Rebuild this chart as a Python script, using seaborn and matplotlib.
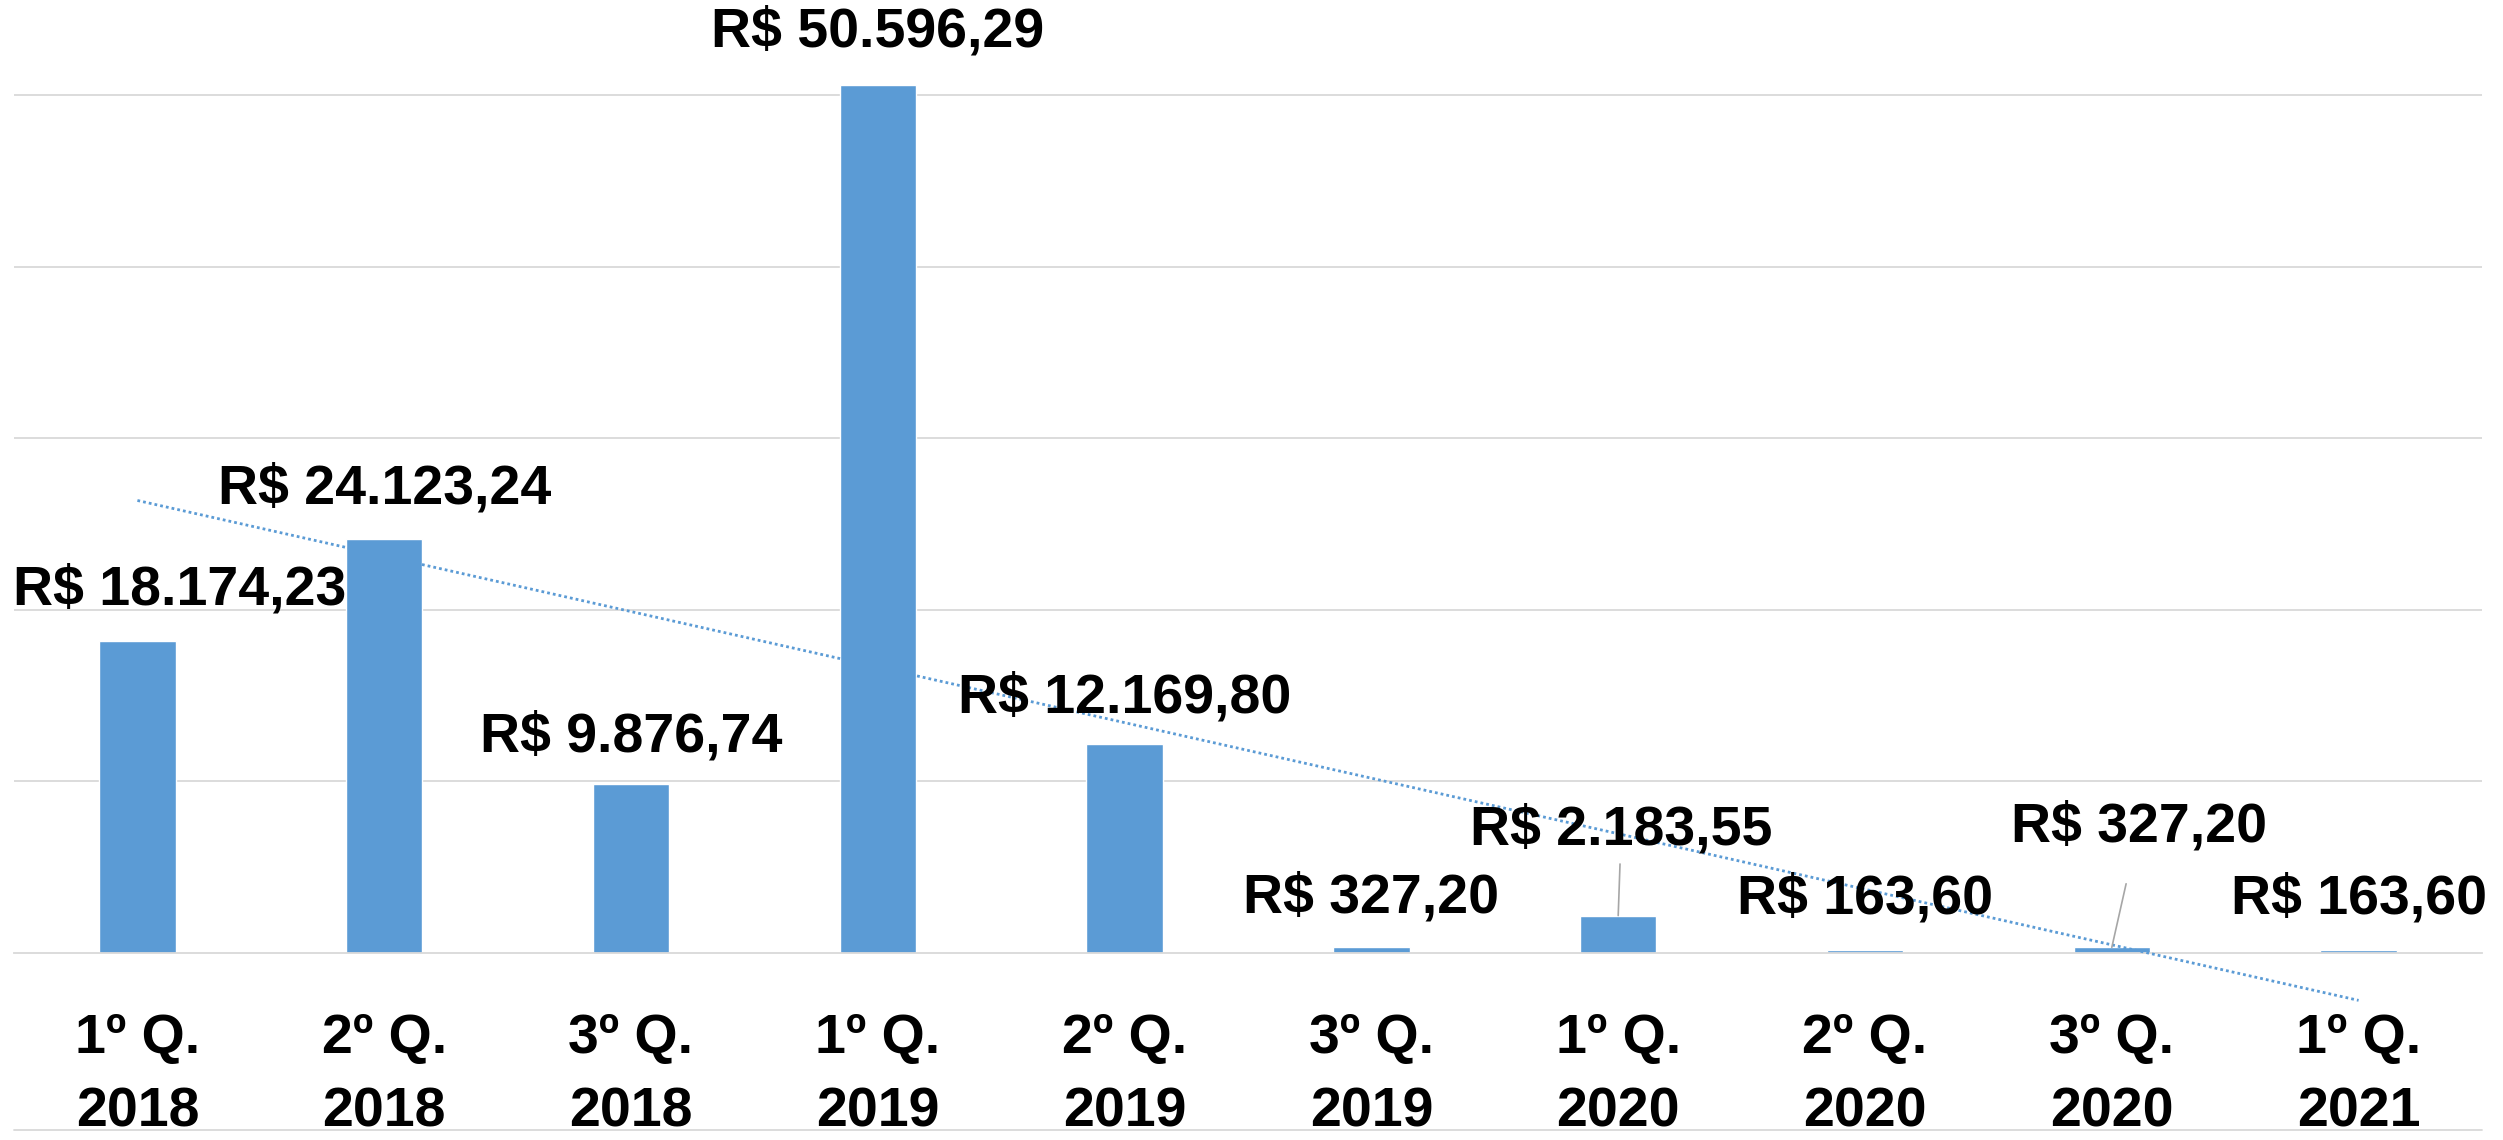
import matplotlib
matplotlib.use('Agg')
import matplotlib.pyplot as plt
import seaborn as sns
import numpy as np
from matplotlib.lines import Line2D

# Quarterly values (R$)
categories = ['1º Q.\n2018', '2º Q.\n2018', '3º Q.\n2018', '1º Q.\n2019', '2º Q.\n2019',
              '3º Q.\n2019', '1º Q.\n2020', '2º Q.\n2020', '3º Q.\n2020', '1º Q.\n2021']
values = [18174.23, 24123.24, 9876.74, 50596.29, 12169.80,
          327.20, 2183.55, 163.60, 327.20, 163.60]
value_labels = ['R$ 18.174,23', 'R$ 24.123,24', 'R$ 9.876,74', 'R$ 50.596,29', 'R$ 12.169,80',
                'R$ 327,20', 'R$ 2.183,55', 'R$ 163,60', 'R$ 327,20', 'R$ 163,60']

# label offsets in pixels from the bar top (dx, dy); leader line gap (pt) or None
label_offsets = [(42, 51), (0, 50), (0, 46), (0, 53), (0, 46),
                 (0, 49), (3, 85), (0, 51), (27, 120), (0, 51)]
leader_gap = [None, None, None, None, None, None, 3, None, 20, None]

BLUE = '#5B9BD5'
GRID = '#D9D9D9'

sns.set_style('white')
plt.rcParams['font.family'] = ['Liberation Sans', 'DejaVu Sans']

fig = plt.figure(figsize=(25.03, 11.40), dpi=100)
ax = fig.add_axes([14 / 2503, 187 / 1140, 2468 / 2503, 953 / 1140])

x = np.arange(len(values))
sns.barplot(x=x, y=values, color=BLUE, saturation=1, width=0.31, ax=ax)

ax.set_xlim(-0.5, len(values) - 0.5)
ax.set_ylim(0, 55560)
ax.set_yticks(np.arange(10000, 50001, 10000))
ax.yaxis.grid(True, color=GRID, linewidth=1.3)
ax.set_yticklabels([])
ax.tick_params(axis='y', length=0)
for s in ['top', 'right', 'left']:
    ax.spines[s].set_visible(False)
ax.spines['bottom'].set_color(GRID)
ax.spines['bottom'].set_linewidth(1.3)

# category separators below the axis
ax.set_xticks(np.arange(-0.5, len(values), 1.0), minor=True)
ax.tick_params(axis='x', which='minor', length=24, width=1.3, color=GRID, direction='out')
ax.set_xticks(x)
ax.set_xticklabels(categories, fontsize=40, fontweight='bold', linespacing=1.55, color='black')
ax.tick_params(axis='x', which='major', length=0, pad=43)

# linear trend line (dotted)
coef = np.polyfit(x + 1, values, 1)
trend = np.polyval(coef, x + 1)
ax.plot(x, trend, linestyle=(0, (1, 1.1)), color=BLUE, linewidth=2.0, clip_on=False, zorder=3)

# data labels
for i, (v, lab) in enumerate(zip(values, value_labels)):
    dx, dy = label_offsets[i]
    kw = {}
    if leader_gap[i] is not None:
        kw['arrowprops'] = dict(arrowstyle='-', color='#A6A6A6', linewidth=1.2,
                                shrinkA=leader_gap[i], shrinkB=0)
    ax.annotate(lab, xy=(i, v), xytext=(dx, dy), textcoords='offset pixels',
                ha='center', va='center', fontsize=40, fontweight='bold',
                color='black', annotation_clip=False, **kw)

# bottom border line of the category table
fig.add_artist(Line2D([14 / 2503, 2482 / 2503], [10 / 1140, 10 / 1140],
                      color=GRID, linewidth=1.3))

fig.savefig('out.png', dpi=100)
